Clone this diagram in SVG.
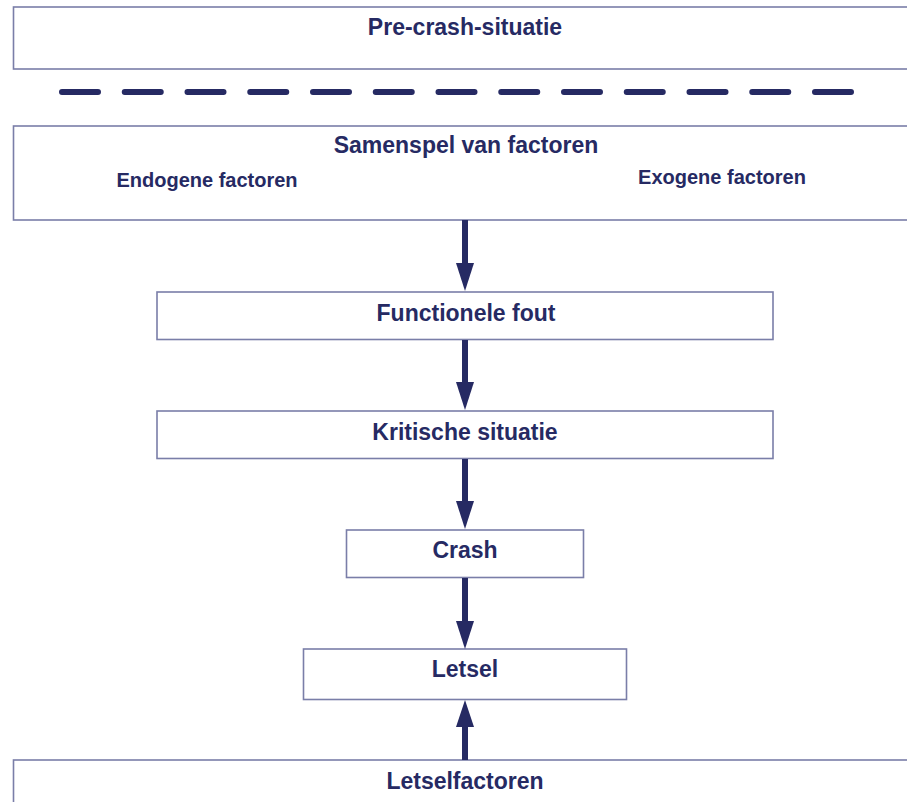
<svg xmlns="http://www.w3.org/2000/svg" width="907" height="802" viewBox="0 0 907 802">
<defs>
<style>
.box{fill:#ffffff;stroke:#7a7ea8;stroke-width:1.6}
.t{font-family:"Liberation Sans",Arial,sans-serif;font-weight:bold;fill:#262a63;text-anchor:middle;font-size:23px}
.s{font-size:20px}
.c{stroke:#262a63;stroke-width:6;fill:none}
.h{fill:#262a63;stroke:none}
</style>
</defs>
<rect width="907" height="802" fill="#ffffff"/>
<g id="pre-crash">
<rect class="box" x="13.5" y="7" width="900" height="62"/>
<text class="t" x="465" y="35">Pre-crash-situatie</text>
</g>
<g id="divider">
<line x1="62" y1="92" x2="856" y2="92" stroke="#262a63" stroke-width="6" stroke-linecap="round" stroke-dasharray="36 26.75"/>
</g>
<g id="samenspel">
<rect class="box" x="13.5" y="126" width="900" height="94"/>
<text class="t" x="466" y="153">Samenspel van factoren</text>
<text class="t s" x="207" y="187">Endogene factoren</text>
<text class="t s" x="722" y="184">Exogene factoren</text>
</g>
<g id="functionele-fout">
<rect class="box" x="157" y="292" width="616" height="47.5"/>
<text class="t" x="466" y="321">Functionele fout</text>
</g>
<g id="kritische-situatie">
<rect class="box" x="157" y="411" width="616" height="47.5"/>
<text class="t" x="465" y="440">Kritische situatie</text>
</g>
<g id="crash">
<rect class="box" x="346.5" y="530" width="237" height="47.5"/>
<text class="t" x="465" y="558">Crash</text>
</g>
<g id="letsel">
<rect class="box" x="303.5" y="649" width="323" height="50.5"/>
<text class="t" x="465" y="677">Letsel</text>
</g>
<g id="letselfactoren">
<rect class="box" x="13.5" y="760" width="900" height="60"/>
<text class="t" x="465" y="789">Letselfactoren</text>
</g>
<g id="connectors">
<line class="c" x1="465" y1="220" x2="465" y2="265"/>
<polygon class="h" points="456,263 474,263 465,291"/>
<line class="c" x1="465" y1="340" x2="465" y2="384"/>
<polygon class="h" points="456,382 474,382 465,410"/>
<line class="c" x1="465" y1="459" x2="465" y2="503"/>
<polygon class="h" points="456,501 474,501 465,529"/>
<line class="c" x1="465" y1="578" x2="465" y2="623"/>
<polygon class="h" points="456,621 474,621 465,649"/>
<line class="c" x1="465" y1="760" x2="465" y2="724"/>
<polygon class="h" points="456,727 474,727 465,700"/>
</g>
</svg>
